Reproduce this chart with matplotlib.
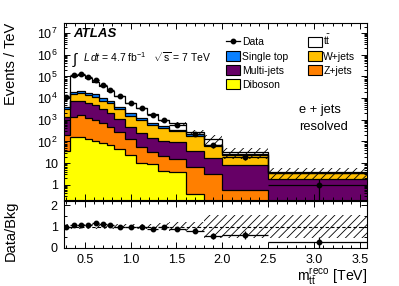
import numpy as np
import matplotlib
matplotlib.use('Agg')
import matplotlib.pyplot as plt
from matplotlib.ticker import MultipleLocator, LogLocator, FixedLocator, FuncFormatter, NullFormatter
from matplotlib.patches import Patch
from matplotlib.lines import Line2D

plt.rcParams['font.family'] = ['Liberation Sans', 'DejaVu Sans']
plt.rcParams['mathtext.fontset'] = 'custom'
plt.rcParams['mathtext.rm'] = 'Liberation Sans'
plt.rcParams['mathtext.it'] = 'Liberation Sans:italic'
plt.rcParams['mathtext.bf'] = 'Liberation Sans:bold'
plt.rcParams['hatch.linewidth'] = 0.6

# ---- data (Events / TeV) ----
edges = [0.26, 0.34, 0.42, 0.50, 0.58, 0.66, 0.74, 0.82, 0.94, 1.06, 1.18, 1.30, 1.42, 1.60, 1.80, 2.00, 2.50, 3.60]
diboson = [37, 165, 155, 125, 108, 82, 68, 43, 24, 10, 9, 4.2, 3.8, 0.38, 0.05, 0.05, 0.02]
zjets = [163, 1215, 1445, 1135, 862, 598, 407, 237, 113, 47, 24, 17.8, 11.2, 6.4, 2.95, 0.55, 0.03]
multijets = [1180, 5920, 6000, 4940, 3630, 2420, 1625, 770, 338, 179, 117, 88, 75, 28.2, 14, 7.6, 1.75]
wjets = [1620, 7500, 9000, 7600, 6200, 4500, 3600, 1950, 1025, 734, 425, 295, 200, 145, 43, 15.8, 1.6]
singletop = [700, 4700, 5400, 4200, 3900, 2400, 1600, 1000, 500, 280, 145, 95, 60, 30, 10, 3, 0.2]
ttbar = [7800, 83500, 98000, 66000, 41300, 26000, 14700, 8300, 4100, 2150, 1080, 480, 330, 70, 55, 7, 0.2]
data = [11500, 111000, 130000, 92000, 65000, 39600, 23500, 12300, 5900, 3400, 1600, 980, 600, 227, 70, 20, 1.0]
syst_rel = [0.13, 0.12, 0.12, 0.12, 0.12, 0.12, 0.12, 0.13, 0.13, 0.13, 0.14, 0.15, 0.2, 0.2, 0.52, 0.52, 0.52]
yticks_main = [1, 10, 1e2, 1e3, 1e4, 1e5, 1e6, 1e7]
yticks_ratio = [0, 1, 2]

labels = ['Diboson', 'Z+jets', 'Multi-jets', 'W+jets', 'Single top', r'$\mathrm{t\bar{t}}$']
colors = ['#FFFF00', '#FF7F00', '#660066', '#FFBF00', '#0A80FF', '#FFFFFF']

edges_a = np.array(edges)
width = np.diff(edges_a)
centers = 0.5 * (edges_a[1:] + edges_a[:-1])
comps = np.array([diboson, zjets, multijets, wjets, singletop, ttbar])
cum = np.cumsum(comps, axis=0)
total = cum[-1]
data_a = np.array(data)
err = np.sqrt(data_a * width) / width
syst = np.array(syst_rel)

fig = plt.figure(figsize=(3.99, 2.86), dpi=100)
L, W = 64 / 399, 303 / 399
ax = fig.add_axes([L, 1 - 200 / 286, W, 177.3 / 286])
rax = fig.add_axes([L, 1 - 248 / 286, W, 47.5 / 286], sharex=ax)

# stack
for i in range(len(comps)):
    lower = cum[i - 1] if i > 0 else np.full(len(centers), 1e-3)
    ax.stairs(cum[i], edges_a, baseline=lower, fill=True, color=colors[i], lw=0)
for i in range(len(comps)):
    ax.stairs(cum[i], edges_a, baseline=None, color='k', lw=0.9)
ax.stairs(total * (1 + syst), edges_a, baseline=total * (1 - syst), fill=True,
          facecolor='none', edgecolor='k', hatch='////', lw=0)
ax.errorbar(centers, data_a, xerr=width / 2, yerr=err, fmt='o', color='k',
            ms=3.2, elinewidth=0.9, capsize=0)

ax.set_yscale('log')
ax.set_ylim(0.2, 3e7)
ax.set_xlim(0.275, 3.575)

def fmt(v, pos):
    e = int(round(np.log10(v)))
    if e == 0:
        return '1'
    if e == 1:
        return '10'
    return r'$\mathregular{10^{%d}}$' % e

ax.yaxis.set_major_locator(FixedLocator(yticks_main))
ax.yaxis.set_major_formatter(FuncFormatter(fmt))
ax.yaxis.set_minor_locator(LogLocator(base=10, subs=np.arange(2, 10), numticks=20))
ax.yaxis.set_minor_formatter(NullFormatter())
ax.xaxis.set_major_locator(MultipleLocator(0.5))
ax.xaxis.set_minor_locator(MultipleLocator(0.1))
ax.tick_params(axis='x', labelbottom=False)

for a in (ax, rax):
    a.tick_params(which='both', direction='in', top=True, right=True, labelsize=9, pad=4.5)
    a.tick_params(which='major', length=4, width=0.7)
    a.tick_params(which='minor', length=2, width=0.7)
    for s in a.spines.values():
        s.set_linewidth(0.8)

ax.set_ylabel('Events / TeV', fontsize=10.5, loc='top')
ax.yaxis.set_label_coords(-0.152, 1)

# ratio
ratio = data_a / total
rerr = err / total
rax.stairs(1 + syst, edges_a, baseline=1 - syst, fill=True, facecolor='none',
           edgecolor='k', hatch='////', lw=0)
rax.axhline(1, color='k', ls='--', lw=0.8, dashes=(3, 2))
rax.errorbar(centers, ratio, xerr=width / 2, yerr=rerr, fmt='o', color='k',
             ms=3.2, elinewidth=0.9, capsize=0)
rax.set_ylim(0, 2.22)
rax.yaxis.set_major_locator(FixedLocator(yticks_ratio))
rax.yaxis.set_minor_locator(MultipleLocator(0.5))
rax.set_ylabel('Data/Bkg', fontsize=10.5, loc='top')
rax.yaxis.set_label_coords(-0.152, 1)
rax.set_xlabel(r'$\mathrm{m_{t\bar{t}}^{reco}}$ [TeV]', fontsize=10.2, loc='right', labelpad=-0.3)

# texts
ax.text(0.03, 0.918, 'ATLAS', transform=ax.transAxes, fontsize=9.5,
        fontweight='bold', fontstyle='italic', va='baseline')
ax.text(0.028, 0.765, r'$\int$', transform=ax.transAxes, fontsize=11, va='baseline')
ax.text(0.064, 0.78, r'$\mathit{L\,dt}$ = 4.7 fb$^{-1}$   $\sqrt{\mathrm{s}}$ = 7 TeV',
        transform=ax.transAxes, fontsize=7.5, va='baseline')
ax.text(0.777, 0.492, 'e + jets', transform=ax.transAxes, fontsize=9.3, va='baseline')
ax.text(0.777, 0.395, 'resolved', transform=ax.transAxes, fontsize=9.3, va='baseline')

handles = [Line2D([], [], color='k', marker='o', ms=3.2, lw=0.9)]
order = [4, 2, 0, 5, 3, 1]
hl = ['Data']
for i in order:
    handles.append(Patch(facecolor=colors[i], edgecolor='k', lw=0.8))
    hl.append(labels[i])
ax.legend(handles, hl, ncol=2, loc='upper left', bbox_to_anchor=(0.535, 0.94),
          frameon=False, fontsize=7.5, borderpad=0, handlelength=1.35,
          handleheight=1.05, handletextpad=0.15, columnspacing=1.9,
          labelspacing=0.36, borderaxespad=0)

fig.savefig('out.png', dpi=100)
